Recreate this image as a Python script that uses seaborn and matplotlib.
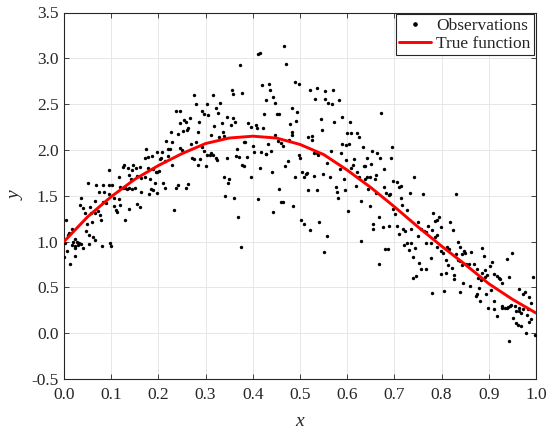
import numpy as np
import pandas as pd
import matplotlib
matplotlib.use("Agg")
import matplotlib.pyplot as plt
from matplotlib.lines import Line2D
from matplotlib.ticker import FormatStrFormatter
import seaborn as sns

# Noisy observations, grouped by x band of width 0.1
band1_x = [0.095, 0.051, 0.068, 0.083, 0.095, 0.101, 0.075, 0.085, 0.095, 0.037, 0.066, 0.082, 0.089, 0.034, 0.041, 0.055, 0.044, 0.057, 0.065, 0.072, 0.076, 0.004, 0.059, 0.078, 0.049, 0.016, 0.011, 0.008, 0.047, 0.054, 0.061, 0.023, 0.065, 0.003, 0.020, 0.028, 0.032, 0.017, 0.023, 0.030, 0.037, 0.081, 0.007, 0.024, 0.040, 0.052, 0.097, 0.000, 0.024, 0.013]
band1_y = [1.78, 1.64, 1.62, 1.62, 1.62, 1.62, 1.54, 1.54, 1.52, 1.48, 1.44, 1.43, 1.42, 1.40, 1.37, 1.38, 1.31, 1.31, 1.31, 1.33, 1.29, 1.24, 1.21, 1.23, 1.19, 1.14, 1.09, 1.07, 1.12, 1.07, 1.05, 1.03, 1.02, 0.98, 0.99, 1.00, 0.98, 0.96, 0.95, 0.96, 0.97, 0.95, 0.90, 0.93, 0.93, 0.97, 0.98, 0.83, 0.84, 0.76]

band2_x = [0.174, 0.172, 0.178, 0.186, 0.127, 0.124, 0.147, 0.136, 0.144, 0.153, 0.160, 0.179, 0.189, 0.116, 0.137, 0.143, 0.155, 0.164, 0.172, 0.182, 0.195, 0.119, 0.124, 0.130, 0.134, 0.138, 0.144, 0.150, 0.164, 0.185, 0.188, 0.181, 0.196, 0.106, 0.117, 0.105, 0.119, 0.110, 0.113, 0.137, 0.155, 0.162, 0.130, 0.100]
band2_y = [2.01, 1.91, 1.92, 1.93, 1.84, 1.81, 1.84, 1.80, 1.78, 1.80, 1.81, 1.80, 1.79, 1.71, 1.73, 1.68, 1.72, 1.69, 1.70, 1.68, 1.76, 1.60, 1.58, 1.59, 1.57, 1.58, 1.57, 1.59, 1.54, 1.57, 1.56, 1.52, 1.53, 1.48, 1.46, 1.39, 1.40, 1.34, 1.32, 1.36, 1.41, 1.38, 1.24, 0.95]

band3_x = [0.276, 0.279, 0.237, 0.246, 0.293, 0.296, 0.266, 0.255, 0.258, 0.245, 0.287, 0.263, 0.252, 0.261, 0.227, 0.283, 0.242, 0.217, 0.228, 0.269, 0.280, 0.220, 0.224, 0.245, 0.249, 0.292, 0.297, 0.208, 0.197, 0.206, 0.203, 0.213, 0.221, 0.272, 0.276, 0.289, 0.228, 0.283, 0.198, 0.201, 0.193, 0.210, 0.213, 0.241, 0.238, 0.263, 0.259, 0.234]
band3_y = [2.60, 2.50, 2.42, 2.42, 2.42, 2.39, 2.35, 2.33, 2.31, 2.29, 2.30, 2.24, 2.21, 2.22, 2.20, 2.20, 2.17, 2.10, 2.09, 2.07, 2.09, 2.01, 2.01, 2.02, 2.00, 2.03, 1.99, 1.98, 1.98, 1.91, 1.90, 1.88, 1.93, 1.91, 1.90, 1.90, 1.84, 1.84, 1.76, 1.77, 1.64, 1.64, 1.58, 1.62, 1.59, 1.63, 1.58, 1.34]

band4_x = [0.373, 0.315, 0.356, 0.357, 0.377, 0.304, 0.321, 0.331, 0.305, 0.326, 0.345, 0.359, 0.362, 0.353, 0.318, 0.335, 0.336, 0.338, 0.390, 0.396, 0.311, 0.328, 0.381, 0.384, 0.367, 0.302, 0.309, 0.312, 0.316, 0.323, 0.325, 0.301, 0.346, 0.364, 0.370, 0.388, 0.377, 0.381, 0.397, 0.340, 0.350, 0.347, 0.342, 0.360, 0.369, 0.374]
band4_y = [2.93, 2.60, 2.65, 2.61, 2.62, 2.50, 2.46, 2.51, 2.38, 2.40, 2.36, 2.35, 2.31, 2.27, 2.26, 2.29, 2.20, 2.15, 2.29, 2.25, 2.16, 2.14, 2.09, 2.09, 2.01, 1.95, 1.95, 1.97, 1.94, 1.91, 1.89, 1.83, 1.91, 1.93, 1.92, 1.92, 1.84, 1.83, 1.71, 1.71, 1.68, 1.64, 1.50, 1.47, 1.27, 0.94]

band5_x = [0.466, 0.411, 0.415, 0.470, 0.419, 0.434, 0.436, 0.489, 0.497, 0.443, 0.428, 0.446, 0.484, 0.494, 0.424, 0.452, 0.455, 0.492, 0.479, 0.407, 0.408, 0.421, 0.482, 0.483, 0.448, 0.477, 0.432, 0.453, 0.460, 0.463, 0.401, 0.403, 0.418, 0.427, 0.429, 0.439, 0.497, 0.475, 0.469, 0.415, 0.441, 0.490, 0.456, 0.410, 0.459, 0.463, 0.486, 0.442]
band5_y = [3.13, 3.05, 3.06, 2.94, 2.71, 2.72, 2.65, 2.74, 2.72, 2.58, 2.54, 2.51, 2.46, 2.41, 2.39, 2.39, 2.39, 2.32, 2.28, 2.27, 2.24, 2.24, 2.20, 2.16, 2.16, 2.11, 2.07, 2.10, 2.08, 2.04, 2.04, 1.98, 1.98, 1.96, 1.96, 1.99, 1.94, 1.88, 1.83, 1.80, 1.76, 1.71, 1.57, 1.46, 1.43, 1.43, 1.39, 1.32]

band6_x = [0.521, 0.535, 0.532, 0.554, 0.570, 0.553, 0.560, 0.568, 0.583, 0.544, 0.546, 0.573, 0.590, 0.518, 0.525, 0.526, 0.600, 0.588, 0.597, 0.566, 0.587, 0.530, 0.537, 0.539, 0.501, 0.598, 0.557, 0.584, 0.505, 0.508, 0.512, 0.515, 0.529, 0.549, 0.564, 0.593, 0.577, 0.578, 0.581, 0.518, 0.537, 0.595, 0.502, 0.509, 0.522, 0.540, 0.557, 0.550]
band6_y = [2.65, 2.68, 2.56, 2.64, 2.65, 2.56, 2.51, 2.50, 2.55, 2.34, 2.22, 2.30, 2.36, 2.14, 2.15, 2.11, 2.18, 2.06, 2.05, 1.99, 1.97, 1.97, 1.97, 1.94, 1.91, 1.89, 1.86, 1.79, 1.76, 1.70, 1.74, 1.75, 1.72, 1.74, 1.70, 1.68, 1.60, 1.54, 1.48, 1.56, 1.56, 1.56, 1.24, 1.19, 1.13, 1.21, 1.06, 0.89]

band7_x = [0.672, 0.606, 0.609, 0.621, 0.626, 0.604, 0.633, 0.653, 0.664, 0.695, 0.614, 0.643, 0.669, 0.692, 0.612, 0.609, 0.636, 0.638, 0.650, 0.678, 0.620, 0.624, 0.638, 0.643, 0.648, 0.658, 0.662, 0.696, 0.619, 0.644, 0.660, 0.677, 0.682, 0.688, 0.691, 0.629, 0.648, 0.602, 0.698, 0.667, 0.654, 0.655, 0.675, 0.688, 0.630, 0.681, 0.686, 0.668]
band7_y = [2.40, 2.30, 2.19, 2.19, 2.14, 2.07, 2.03, 1.99, 1.97, 2.03, 1.90, 1.91, 1.91, 1.91, 1.84, 1.80, 1.82, 1.83, 1.85, 1.79, 1.76, 1.71, 1.68, 1.70, 1.71, 1.68, 1.73, 1.66, 1.61, 1.57, 1.53, 1.60, 1.53, 1.51, 1.52, 1.44, 1.39, 1.33, 1.35, 1.27, 1.19, 1.14, 1.16, 1.17, 1.01, 0.92, 0.92, 0.76]

band8_x = [0.705, 0.709, 0.713, 0.742, 0.732, 0.761, 0.713, 0.716, 0.702, 0.726, 0.750, 0.782, 0.787, 0.790, 0.794, 0.706, 0.719, 0.723, 0.735, 0.710, 0.749, 0.757, 0.763, 0.766, 0.771, 0.780, 0.798, 0.785, 0.790, 0.720, 0.727, 0.735, 0.730, 0.744, 0.766, 0.778, 0.791, 0.799, 0.740, 0.753, 0.767, 0.777, 0.746, 0.739, 0.798, 0.780, 0.756]
band8_y = [1.65, 1.60, 1.61, 1.70, 1.53, 1.52, 1.48, 1.40, 1.30, 1.34, 1.21, 1.31, 1.22, 1.23, 1.27, 1.17, 1.14, 1.12, 1.14, 1.08, 1.06, 1.14, 1.12, 1.10, 1.17, 1.13, 1.16, 1.05, 1.07, 0.96, 0.98, 0.98, 0.91, 0.93, 0.98, 0.98, 0.94, 0.90, 0.83, 0.77, 0.70, 0.82, 0.62, 0.60, 0.65, 0.44, 0.70]

band9_x = [0.830, 0.818, 0.824, 0.834, 0.804, 0.811, 0.816, 0.840, 0.848, 0.862, 0.886, 0.844, 0.831, 0.850, 0.889, 0.809, 0.814, 0.835, 0.840, 0.844, 0.852, 0.858, 0.869, 0.823, 0.826, 0.827, 0.875, 0.885, 0.892, 0.896, 0.809, 0.845, 0.878, 0.883, 0.886, 0.806, 0.838, 0.861, 0.879, 0.872, 0.874, 0.882, 0.895, 0.899, 0.891]
band9_y = [1.52, 1.21, 1.13, 1.00, 0.87, 0.94, 0.92, 0.94, 0.90, 0.89, 0.93, 0.86, 0.86, 0.87, 0.84, 0.80, 0.74, 0.80, 0.79, 0.74, 0.75, 0.76, 0.76, 0.71, 0.64, 0.59, 0.70, 0.66, 0.69, 0.64, 0.66, 0.55, 0.60, 0.58, 0.59, 0.46, 0.45, 0.52, 0.49, 0.41, 0.43, 0.35, 0.43, 0.28, 0.61]

band10_x = [0.949, 0.939, 0.907, 0.903, 0.911, 0.918, 0.921, 0.924, 0.929, 0.942, 0.994, 0.905, 0.965, 0.973, 0.976, 0.986, 0.990, 0.912, 0.927, 0.929, 0.935, 0.938, 0.941, 0.945, 0.948, 0.956, 0.963, 0.910, 0.958, 0.965, 0.972, 0.982, 0.918, 0.952, 0.968, 0.980, 0.989, 0.985, 0.958, 0.962, 0.969, 0.979, 0.998, 0.943]
band10_y = [0.87, 0.81, 0.78, 0.73, 0.65, 0.62, 0.60, 0.59, 0.55, 0.61, 0.61, 0.47, 0.48, 0.43, 0.45, 0.39, 0.33, 0.35, 0.30, 0.28, 0.28, 0.27, 0.29, 0.30, 0.31, 0.30, 0.27, 0.26, 0.24, 0.24, 0.26, 0.26, 0.19, 0.17, 0.22, 0.20, 0.15, 0.12, 0.11, 0.09, 0.08, 0.00, -0.02, -0.09]

# True function sampled along x
true_x = [0.00, 0.05, 0.10, 0.15, 0.20, 0.25, 0.30, 0.35, 0.40, 0.45, 0.50,
          0.55, 0.60, 0.65, 0.70, 0.75, 0.80, 0.85, 0.90, 0.95, 1.00]
true_y = [1.00, 1.27, 1.49, 1.68, 1.83, 1.96, 2.07, 2.13, 2.15, 2.13, 2.06,
          1.95, 1.78, 1.59, 1.38, 1.16, 0.95, 0.75, 0.54, 0.37, 0.22]

x_ticks = [0.0, 0.1, 0.2, 0.3, 0.4, 0.5, 0.6, 0.7, 0.8, 0.9, 1.0]
y_ticks = [-0.5, 0.0, 0.5, 1.0, 1.5, 2.0, 2.5, 3.0, 3.5]

obs = pd.DataFrame({
    "x": band1_x + band2_x + band3_x + band4_x + band5_x + band6_x + band7_x + band8_x + band9_x + band10_x,
    "y": band1_y + band2_y + band3_y + band4_y + band5_y + band6_y + band7_y + band8_y + band9_y + band10_y,
})
truth = pd.DataFrame({"x": true_x, "y": true_y})

sns.set_theme(style="ticks")
plt.rcParams["font.family"] = ["Liberation Serif", "DejaVu Serif"]
plt.rcParams["axes.unicode_minus"] = False

W, H = 546, 429
fig = plt.figure(figsize=(W / 100, H / 100), dpi=100)
ax = fig.add_axes([64 / W, (H - 379) / H, 472 / W, (379 - 12.5) / H])

sns.scatterplot(data=obs, x="x", y="y", ax=ax, color="black", s=6,
                linewidth=0, zorder=3, legend=False)
sns.lineplot(data=truth, x="x", y="y", ax=ax, color="#ff0000", linewidth=2.1,
             zorder=4, legend=False)

ax.set_xlim(0, 1)
ax.set_ylim(-0.5, 3.5)
ax.set_xticks(x_ticks)
ax.set_yticks(y_ticks)
ax.xaxis.set_major_formatter(FormatStrFormatter("%.1f"))
ax.yaxis.set_major_formatter(FormatStrFormatter("%.1f"))
ax.grid(True, color="#e3e3e3", linewidth=0.6, zorder=0)
ax.set_axisbelow(True)
ax.tick_params(direction="in", length=3.5, width=0.6, top=True, right=True,
               labelsize=12.5, colors="#262626")
ax.tick_params(axis="x", pad=6)
ax.tick_params(axis="y", pad=4)
for sp in ax.spines.values():
    sp.set_linewidth(0.8)
    sp.set_color("#262626")

ax.set_xlabel("x", fontsize=14, fontstyle="italic", color="#262626", labelpad=7)
ax.set_ylabel("y", fontsize=14, fontstyle="italic", color="#262626", labelpad=5)

handles = [
    Line2D([], [], linestyle="none", marker="o", markersize=2.3,
           markerfacecolor="black", markeredgecolor="black"),
    Line2D([], [], color="#ff0000", linewidth=2.1),
]
leg = ax.legend(handles, ["Observations", "True function"], loc="upper right",
                fontsize=12.5, frameon=True, fancybox=False, framealpha=1,
                edgecolor="#262626", borderpad=0.2, handlelength=1.85,
                handletextpad=0.3, labelspacing=0.1, borderaxespad=0.1)
leg.get_frame().set_linewidth(0.8)

fig.savefig("out.png", dpi=100)
